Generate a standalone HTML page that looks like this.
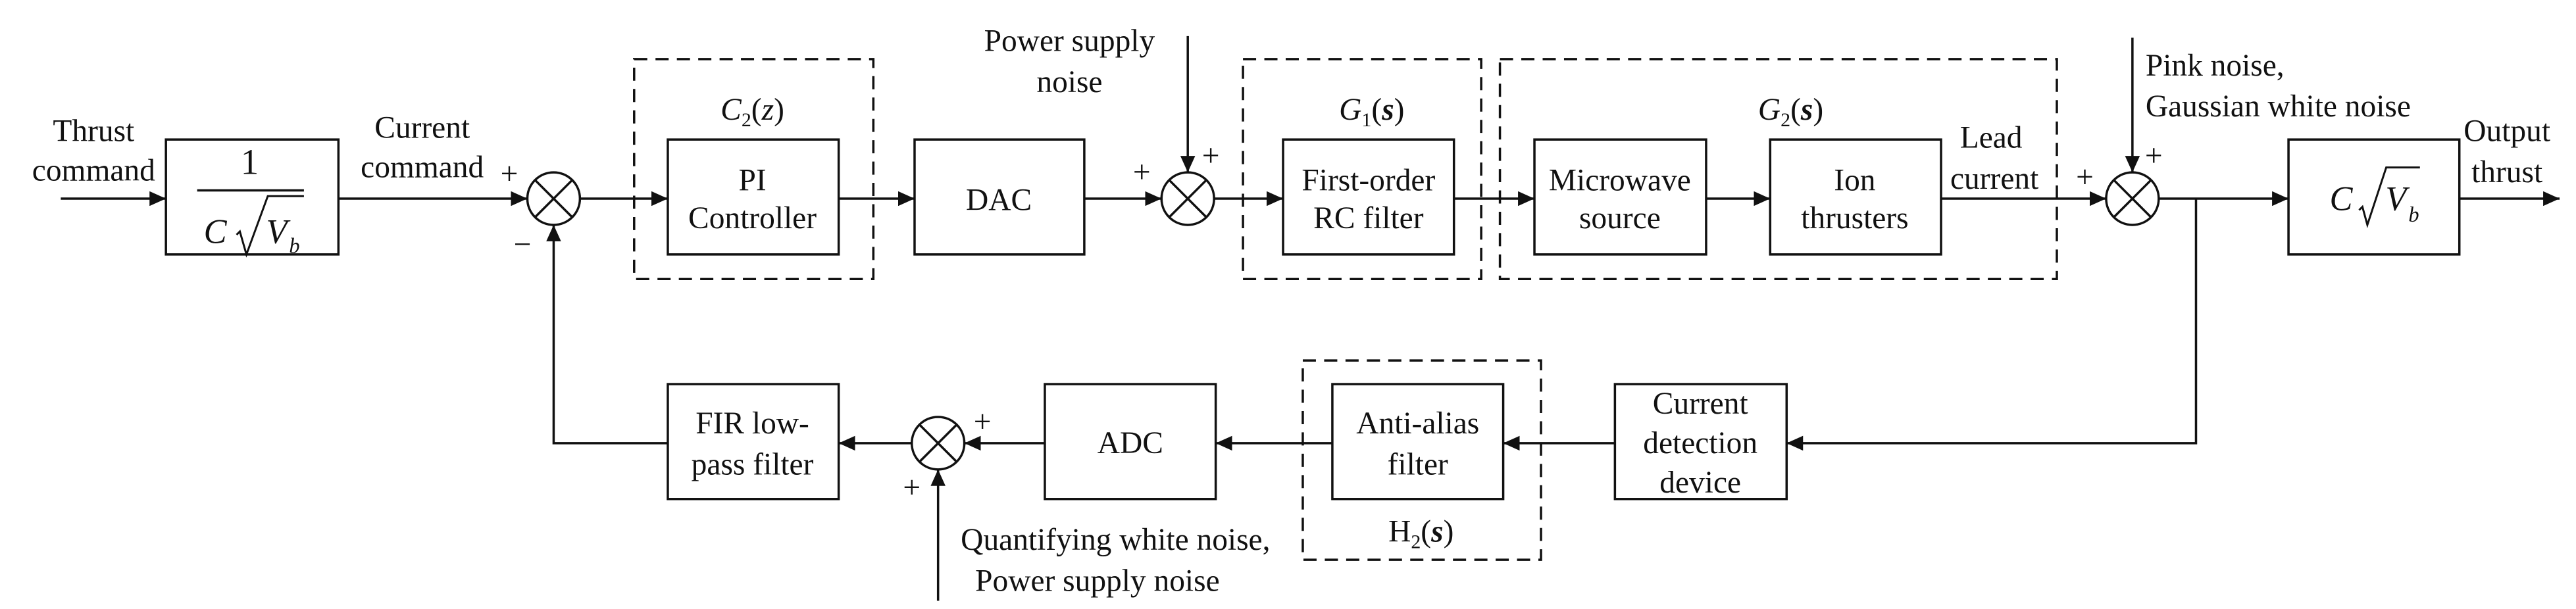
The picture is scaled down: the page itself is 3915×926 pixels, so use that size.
<!DOCTYPE html>
<html><head><meta charset="utf-8"><style>
html,body{margin:0;padding:0;background:#fff;}
svg{display:block;font-family:"Liberation Serif","Times New Roman",serif;}
svg text{font-family:"Liberation Serif","Times New Roman",serif;font-size:19px;fill:#111;}
.c{text-anchor:middle;}
.i{font-style:italic;}
</style></head><body>
<svg width="3915" height="926" viewBox="0 0 1568 371" preserveAspectRatio="none" xmlns="http://www.w3.org/2000/svg" font-family="Liberation Serif, serif">
<defs>
<marker id="a" markerWidth="10" markerHeight="9" refX="10" refY="4.5" orient="auto" markerUnits="userSpaceOnUse">
<path d="M0,0 L10,4.5 L0,9 Z" fill="#111"/></marker>
</defs>
<g stroke="#111" stroke-width="1.4" fill="none">
<g stroke-dasharray="8,5">
<rect x="386" y="36" width="145.6" height="134"/>
<rect x="756.6" y="36" width="145" height="134"/>
<rect x="913" y="36" width="339" height="134"/>
<rect x="793" y="219.6" width="145" height="121.4"/>
</g>
<rect x="101" y="85" width="105" height="70"/>
<rect x="406.5" y="85" width="104" height="70"/>
<rect x="556.7" y="85" width="103.3" height="70"/>
<rect x="781" y="85" width="104" height="70"/>
<rect x="934" y="85" width="104.5" height="70"/>
<rect x="1077.5" y="85" width="104" height="70"/>
<rect x="1393" y="85" width="104" height="70"/>
<rect x="406.5" y="234" width="104" height="70"/>
<rect x="636" y="234" width="104" height="70"/>
<rect x="811" y="234" width="104" height="70"/>
<rect x="983" y="234" width="104.5" height="70"/>
<g>
<circle cx="337" cy="121" r="16"/>
<path d="M325.7,109.7 L348.3,132.3 M348.3,109.7 L325.7,132.3"/>
<circle cx="723" cy="121" r="16"/>
<path d="M711.7,109.7 L734.3,132.3 M734.3,109.7 L711.7,132.3"/>
<circle cx="1298" cy="121" r="16"/>
<path d="M1286.7,109.7 L1309.3,132.3 M1309.3,109.7 L1286.7,132.3"/>
<circle cx="571" cy="270" r="16"/>
<path d="M559.7,258.7 L582.3,281.3 M582.3,258.7 L559.7,281.3"/>
</g>
<line x1="37" y1="121" x2="101" y2="121" marker-end="url(#a)"/>
<line x1="206" y1="121" x2="321" y2="121" marker-end="url(#a)"/>
<line x1="353" y1="121" x2="406.5" y2="121" marker-end="url(#a)"/>
<line x1="510.5" y1="121" x2="556.7" y2="121" marker-end="url(#a)"/>
<line x1="660" y1="121" x2="707" y2="121" marker-end="url(#a)"/>
<line x1="739" y1="121" x2="781" y2="121" marker-end="url(#a)"/>
<line x1="885" y1="121" x2="934" y2="121" marker-end="url(#a)"/>
<line x1="1038.5" y1="121" x2="1077.5" y2="121" marker-end="url(#a)"/>
<line x1="1181.5" y1="121" x2="1282" y2="121" marker-end="url(#a)"/>
<line x1="1314" y1="121" x2="1393" y2="121" marker-end="url(#a)"/>
<line x1="1497" y1="121" x2="1558" y2="121" marker-end="url(#a)"/>
<line x1="723" y1="22" x2="723" y2="105" marker-end="url(#a)"/>
<line x1="1298" y1="23" x2="1298" y2="105" marker-end="url(#a)"/>
<line x1="571" y1="366" x2="571" y2="286" marker-end="url(#a)"/>
<polyline points="1336.7,121 1336.7,270 1087.5,270" marker-end="url(#a)"/>
<line x1="983" y1="270" x2="915" y2="270" marker-end="url(#a)"/>
<line x1="811" y1="270" x2="740" y2="270" marker-end="url(#a)"/>
<line x1="636" y1="270" x2="587" y2="270" marker-end="url(#a)"/>
<line x1="555" y1="270" x2="510.5" y2="270" marker-end="url(#a)"/>
<polyline points="406.5,270 337,270 337,137" marker-end="url(#a)"/>
<line x1="120" y1="116" x2="185" y2="116"/>
<path d="M144,143 L146,141 L150,155 L163,119.5 L185,119.5" stroke-width="1.2"/>
<path d="M1436,128 L1438,126 L1441,137 L1452.5,102 L1473,102" stroke-width="1.2"/>
</g>
<text class="c" x="57" y="86">Thrust</text>
<text class="c" x="57" y="110">command</text>
<text class="c" x="257" y="84">Current</text>
<text class="c" x="257" y="108">command</text>
<text class="c" x="152" y="106" style="font-size:22px">1</text>
<text class="i" x="124" y="148" style="font-size:21px">C</text>
<text class="i" x="162" y="148" style="font-size:21px">V</text>
<text class="i" x="176" y="154" style="font-size:13px">b</text>
<text class="i" x="1418" y="128" style="font-size:21px">C</text>
<text class="i" x="1452" y="128" style="font-size:21px">V</text>
<text class="i" x="1466" y="135" style="font-size:13px">b</text>
<text x="310" y="112" class="c">+</text>
<text x="318" y="155" class="c">−</text>
<text x="695" y="111" class="c">+</text>
<text x="737" y="101" class="c">+</text>
<text x="1269" y="114" class="c">+</text>
<text x="1311" y="101" class="c">+</text>
<text x="598" y="263" class="c">+</text>
<text x="555" y="303" class="c">+</text>
<text class="c" x="458" y="73"><tspan class="i">C</tspan><tspan style="font-size:12px" dy="4">2</tspan><tspan dy="-4">(</tspan><tspan class="i">z</tspan>)</text>
<text class="c" x="835" y="73"><tspan class="i">G</tspan><tspan style="font-size:12px" dy="4">1</tspan><tspan dy="-4">(</tspan><tspan class="i" font-weight="bold">s</tspan>)</text>
<text class="c" x="1090" y="73"><tspan class="i">G</tspan><tspan style="font-size:12px" dy="4">2</tspan><tspan dy="-4">(</tspan><tspan class="i" font-weight="bold">s</tspan>)</text>
<text class="c" x="865" y="330">H<tspan style="font-size:12px" dy="4">2</tspan><tspan dy="-4">(</tspan><tspan class="i" font-weight="bold">s</tspan>)</text>
<text class="c" x="458" y="116">PI</text>
<text class="c" x="458" y="139">Controller</text>
<text class="c" x="608" y="128">DAC</text>
<text class="c" x="833" y="116">First-order</text>
<text class="c" x="833" y="139">RC filter</text>
<text class="c" x="986" y="116">Microwave</text>
<text class="c" x="986" y="139">source</text>
<text class="c" x="1129" y="116">Ion</text>
<text class="c" x="1129" y="139">thrusters</text>
<text class="c" x="1212" y="90">Lead</text>
<text class="c" x="1214" y="115">current</text>
<text class="c" x="651" y="31">Power supply</text>
<text class="c" x="651" y="56">noise</text>
<text x="1306" y="46">Pink noise,</text>
<text x="1306" y="71">Gaussian white noise</text>
<text class="c" x="1526" y="86">Output</text>
<text class="c" x="1526" y="111">thrust</text>
<text class="c" x="458" y="264">FIR low-</text>
<text class="c" x="458" y="289">pass filter</text>
<text class="c" x="688" y="276">ADC</text>
<text class="c" x="863" y="264">Anti-alias</text>
<text class="c" x="863" y="289">filter</text>
<text class="c" x="1035" y="252">Current</text>
<text class="c" x="1035" y="276">detection</text>
<text class="c" x="1035" y="300">device</text>
<text class="c" x="679" y="335">Quantifying white noise,</text>
<text class="c" x="668" y="360">Power supply noise</text>
</svg>
</body></html>
